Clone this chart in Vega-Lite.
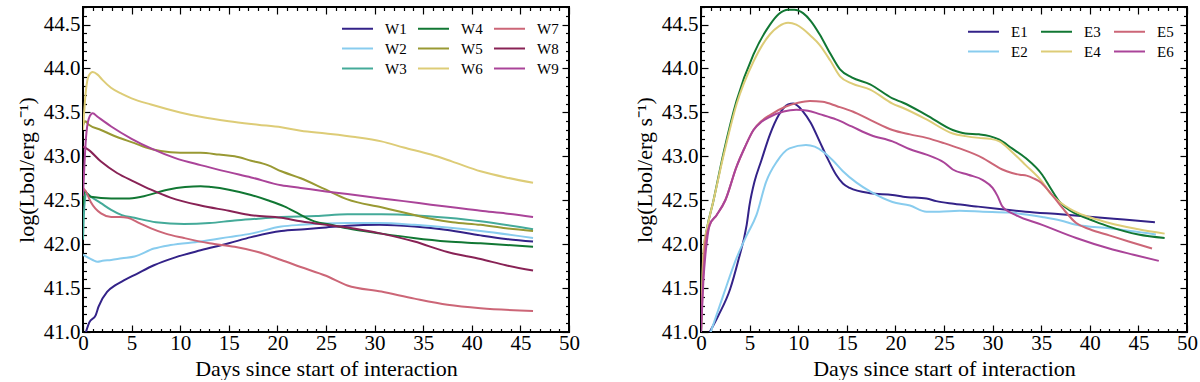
{
  "$schema": "https://vega.github.io/schema/vega-lite/v6.json",
  "background": "white",
  "padding": {"left": 14, "top": 5, "right": 12, "bottom": 0},
  "autosize": {"type": "pad"},
  "config": {
    "font": "Liberation Serif",
    "view": {"stroke": "black", "strokeWidth": 2},
    "axis": {"domain": false, "grid": false, "labelFontSize": 21, "titleFontSize": 22, "titleFontWeight": "normal", "labelColor": "black", "titleColor": "black", "tickColor": "black", "tickWidth": 1.2, "labelFlush": false, "labelOverlap": false, "labelFont": "Liberation Serif", "titleFont": "Liberation Serif"},
    "legend": {"orient": "top-right", "columns": 3, "symbolType": "M-1.5,0H1.5", "symbolStrokeWidth": 2, "symbolSize": 427, "labelFontSize": 15, "labelFont": "Liberation Serif", "labelColor": "black", "labelOffset": 16, "columnPadding": 7, "rowPadding": 0, "offset": 10, "padding": 0},
    "concat": {"spacing": 51}
  },
  "resolve": {"scale": {"color": "independent", "x": "independent", "y": "independent"}, "legend": {"color": "independent"}},
  "datasets": {
    "wide": [
      {"s":"W1","t":0.3,"L":41.0},{"s":"W1","t":0.65,"L":41.11},{"s":"W1","t":1.3,"L":41.19},{"s":"W1","t":1.6,"L":41.29},{"s":"W1","t":2.5,"L":41.46},{"s":"W1","t":3.3,"L":41.53},{"s":"W1","t":4.25,"L":41.59},{"s":"W1","t":5.5,"L":41.66},{"s":"W1","t":7.3,"L":41.76},{"s":"W1","t":9.5,"L":41.85},{"s":"W1","t":12.1,"L":41.93},{"s":"W1","t":15,"L":42.01},{"s":"W1","t":17.3,"L":42.08},{"s":"W1","t":20.4,"L":42.15},{"s":"W1","t":22.8,"L":42.17},{"s":"W1","t":25,"L":42.19},{"s":"W1","t":27.2,"L":42.21},{"s":"W1","t":30.5,"L":42.22},{"s":"W1","t":34.1,"L":42.2},{"s":"W1","t":37.5,"L":42.16},{"s":"W1","t":40.9,"L":42.1},{"s":"W1","t":43.5,"L":42.06},{"s":"W1","t":46.3,"L":42.03},
      {"s":"W2","t":0,"L":41.88},{"s":"W2","t":0.3,"L":41.86},{"s":"W2","t":1.0,"L":41.82},{"s":"W2","t":1.5,"L":41.8},{"s":"W2","t":2.0,"L":41.81},{"s":"W2","t":2.9,"L":41.82},{"s":"W2","t":4,"L":41.84},{"s":"W2","t":5.3,"L":41.86},{"s":"W2","t":7.3,"L":41.95},{"s":"W2","t":9,"L":41.99},{"s":"W2","t":12.1,"L":42.03},{"s":"W2","t":15,"L":42.08},{"s":"W2","t":17.3,"L":42.12},{"s":"W2","t":20.4,"L":42.2},{"s":"W2","t":22.4,"L":42.22},{"s":"W2","t":27.2,"L":42.24},{"s":"W2","t":30.5,"L":42.24},{"s":"W2","t":34.1,"L":42.22},{"s":"W2","t":37.5,"L":42.19},{"s":"W2","t":40.9,"L":42.15},{"s":"W2","t":46.3,"L":42.07},
      {"s":"W3","t":0,"L":42.05},{"s":"W3","t":0.15,"L":42.45},{"s":"W3","t":0.35,"L":42.58},{"s":"W3","t":0.8,"L":42.54},{"s":"W3","t":1.8,"L":42.47},{"s":"W3","t":2.9,"L":42.39},{"s":"W3","t":4,"L":42.33},{"s":"W3","t":5.3,"L":42.3},{"s":"W3","t":7.5,"L":42.25},{"s":"W3","t":10.4,"L":42.23},{"s":"W3","t":13,"L":42.24},{"s":"W3","t":15.6,"L":42.27},{"s":"W3","t":18,"L":42.29},{"s":"W3","t":20.4,"L":42.31},{"s":"W3","t":24,"L":42.32},{"s":"W3","t":27.2,"L":42.34},{"s":"W3","t":30.7,"L":42.34},{"s":"W3","t":34.1,"L":42.33},{"s":"W3","t":37.5,"L":42.3},{"s":"W3","t":40.9,"L":42.26},{"s":"W3","t":46.3,"L":42.17},
      {"s":"W4","t":0,"L":42.45},{"s":"W4","t":0.15,"L":42.6},{"s":"W4","t":0.8,"L":42.54},{"s":"W4","t":2.9,"L":42.52},{"s":"W4","t":4.5,"L":42.52},{"s":"W4","t":6,"L":42.54},{"s":"W4","t":8.7,"L":42.62},{"s":"W4","t":10.5,"L":42.65},{"s":"W4","t":12.1,"L":42.66},{"s":"W4","t":13.2,"L":42.65},{"s":"W4","t":15,"L":42.62},{"s":"W4","t":17.3,"L":42.56},{"s":"W4","t":19,"L":42.5},{"s":"W4","t":20.7,"L":42.43},{"s":"W4","t":22.3,"L":42.34},{"s":"W4","t":23.8,"L":42.26},{"s":"W4","t":25.5,"L":42.22},{"s":"W4","t":27.2,"L":42.18},{"s":"W4","t":30.7,"L":42.12},{"s":"W4","t":34,"L":42.07},{"s":"W4","t":37.5,"L":42.03},{"s":"W4","t":40.9,"L":42.01},{"s":"W4","t":46.3,"L":41.97},
      {"s":"W5","t":0,"L":43.35},{"s":"W5","t":0.2,"L":43.4},{"s":"W5","t":0.6,"L":43.36},{"s":"W5","t":1.85,"L":43.3},{"s":"W5","t":3.5,"L":43.22},{"s":"W5","t":5.3,"L":43.15},{"s":"W5","t":6.5,"L":43.1},{"s":"W5","t":8,"L":43.06},{"s":"W5","t":10,"L":43.04},{"s":"W5","t":12.1,"L":43.04},{"s":"W5","t":14,"L":43.02},{"s":"W5","t":15.6,"L":43.0},{"s":"W5","t":17.3,"L":42.95},{"s":"W5","t":19,"L":42.9},{"s":"W5","t":20.4,"L":42.83},{"s":"W5","t":22.4,"L":42.75},{"s":"W5","t":25,"L":42.62},{"s":"W5","t":27.2,"L":42.51},{"s":"W5","t":30.7,"L":42.42},{"s":"W5","t":33,"L":42.36},{"s":"W5","t":35.8,"L":42.29},{"s":"W5","t":38,"L":42.25},{"s":"W5","t":40.9,"L":42.22},{"s":"W5","t":43.5,"L":42.18},{"s":"W5","t":46.3,"L":42.15},
      {"s":"W6","t":0,"L":43.3},{"s":"W6","t":0.3,"L":43.75},{"s":"W6","t":0.6,"L":43.92},{"s":"W6","t":1.0,"L":43.96},{"s":"W6","t":1.5,"L":43.93},{"s":"W6","t":2,"L":43.87},{"s":"W6","t":2.88,"L":43.78},{"s":"W6","t":4,"L":43.71},{"s":"W6","t":5,"L":43.66},{"s":"W6","t":7,"L":43.59},{"s":"W6","t":10,"L":43.5},{"s":"W6","t":12.1,"L":43.45},{"s":"W6","t":15,"L":43.4},{"s":"W6","t":18,"L":43.36},{"s":"W6","t":20.4,"L":43.33},{"s":"W6","t":22.4,"L":43.29},{"s":"W6","t":25,"L":43.26},{"s":"W6","t":28,"L":43.22},{"s":"W6","t":30.7,"L":43.17},{"s":"W6","t":33,"L":43.1},{"s":"W6","t":35.8,"L":43.02},{"s":"W6","t":38,"L":42.94},{"s":"W6","t":40.9,"L":42.83},{"s":"W6","t":43.5,"L":42.76},{"s":"W6","t":46.3,"L":42.7},
      {"s":"W7","t":0,"L":42.64},{"s":"W7","t":0.3,"L":42.6},{"s":"W7","t":0.8,"L":42.48},{"s":"W7","t":1.85,"L":42.35},{"s":"W7","t":2.9,"L":42.31},{"s":"W7","t":3.8,"L":42.31},{"s":"W7","t":4.6,"L":42.3},{"s":"W7","t":5.8,"L":42.24},{"s":"W7","t":7,"L":42.18},{"s":"W7","t":8.5,"L":42.12},{"s":"W7","t":10.4,"L":42.07},{"s":"W7","t":13,"L":42.01},{"s":"W7","t":15.6,"L":41.97},{"s":"W7","t":18,"L":41.91},{"s":"W7","t":20.4,"L":41.82},{"s":"W7","t":22.4,"L":41.74},{"s":"W7","t":25,"L":41.64},{"s":"W7","t":27.2,"L":41.53},{"s":"W7","t":30.7,"L":41.46},{"s":"W7","t":34.1,"L":41.38},{"s":"W7","t":37.5,"L":41.31},{"s":"W7","t":40.9,"L":41.27},{"s":"W7","t":46.3,"L":41.24},
      {"s":"W8","t":0,"L":43.11},{"s":"W8","t":0.5,"L":43.08},{"s":"W8","t":1.85,"L":42.94},{"s":"W8","t":3.5,"L":42.81},{"s":"W8","t":5.3,"L":42.71},{"s":"W8","t":7,"L":42.62},{"s":"W8","t":9,"L":42.53},{"s":"W8","t":12.1,"L":42.44},{"s":"W8","t":15,"L":42.38},{"s":"W8","t":17.3,"L":42.33},{"s":"W8","t":20.4,"L":42.3},{"s":"W8","t":22.4,"L":42.26},{"s":"W8","t":25,"L":42.22},{"s":"W8","t":27.2,"L":42.19},{"s":"W8","t":30.7,"L":42.12},{"s":"W8","t":34.1,"L":42.03},{"s":"W8","t":37.5,"L":41.91},{"s":"W8","t":40.9,"L":41.83},{"s":"W8","t":43.5,"L":41.76},{"s":"W8","t":46.3,"L":41.7},
      {"s":"W9","t":0,"L":42.55},{"s":"W9","t":0.3,"L":43.2},{"s":"W9","t":0.6,"L":43.43},{"s":"W9","t":1.0,"L":43.49},{"s":"W9","t":1.5,"L":43.45},{"s":"W9","t":2.9,"L":43.34},{"s":"W9","t":5,"L":43.2},{"s":"W9","t":7,"L":43.09},{"s":"W9","t":9.5,"L":42.98},{"s":"W9","t":12.1,"L":42.9},{"s":"W9","t":15,"L":42.82},{"s":"W9","t":17.3,"L":42.76},{"s":"W9","t":20.4,"L":42.67},{"s":"W9","t":22.4,"L":42.64},{"s":"W9","t":25,"L":42.6},{"s":"W9","t":27.2,"L":42.57},{"s":"W9","t":30.7,"L":42.52},{"s":"W9","t":33,"L":42.49},{"s":"W9","t":35.8,"L":42.45},{"s":"W9","t":38,"L":42.42},{"s":"W9","t":40.9,"L":42.38},{"s":"W9","t":43.5,"L":42.35},{"s":"W9","t":46.3,"L":42.31}
    ],
    "edge": [
      {"s":"E1","t":0.9,"L":41.0},{"s":"E1","t":1.8,"L":41.19},{"s":"E1","t":3.0,"L":41.49},{"s":"E1","t":3.8,"L":41.8},{"s":"E1","t":4.7,"L":42.22},{"s":"E1","t":5.0,"L":42.45},{"s":"E1","t":5.5,"L":42.71},{"s":"E1","t":6.2,"L":42.95},{"s":"E1","t":7.1,"L":43.25},{"s":"E1","t":8,"L":43.47},{"s":"E1","t":8.96,"L":43.59},{"s":"E1","t":9.5,"L":43.6},{"s":"E1","t":10.5,"L":43.51},{"s":"E1","t":11.3,"L":43.38},{"s":"E1","t":12.2,"L":43.17},{"s":"E1","t":13,"L":42.98},{"s":"E1","t":13.9,"L":42.79},{"s":"E1","t":14.6,"L":42.69},{"s":"E1","t":15.3,"L":42.64},{"s":"E1","t":17.4,"L":42.58},{"s":"E1","t":19.7,"L":42.56},{"s":"E1","t":20.8,"L":42.54},{"s":"E1","t":23.2,"L":42.52},{"s":"E1","t":24.2,"L":42.49},{"s":"E1","t":26,"L":42.46},{"s":"E1","t":28.3,"L":42.43},{"s":"E1","t":30.7,"L":42.4},{"s":"E1","t":33.4,"L":42.37},{"s":"E1","t":37,"L":42.34},{"s":"E1","t":40.3,"L":42.31},{"s":"E1","t":43.5,"L":42.28},{"s":"E1","t":46.7,"L":42.25},
      {"s":"E2","t":1.0,"L":41.0},{"s":"E2","t":2.3,"L":41.42},{"s":"E2","t":3.65,"L":41.84},{"s":"E2","t":4.7,"L":42.1},{"s":"E2","t":5.7,"L":42.33},{"s":"E2","t":6.7,"L":42.71},{"s":"E2","t":7.8,"L":42.94},{"s":"E2","t":9.1,"L":43.09},{"s":"E2","t":10.8,"L":43.13},{"s":"E2","t":11.7,"L":43.11},{"s":"E2","t":12.6,"L":43.05},{"s":"E2","t":13.6,"L":42.95},{"s":"E2","t":14.6,"L":42.83},{"s":"E2","t":16,"L":42.7},{"s":"E2","t":17.4,"L":42.6},{"s":"E2","t":19.7,"L":42.48},{"s":"E2","t":21.5,"L":42.44},{"s":"E2","t":23.2,"L":42.37},{"s":"E2","t":24.5,"L":42.37},{"s":"E2","t":26.6,"L":42.38},{"s":"E2","t":29,"L":42.37},{"s":"E2","t":31.7,"L":42.36},{"s":"E2","t":35.1,"L":42.31},{"s":"E2","t":37,"L":42.27},{"s":"E2","t":38.6,"L":42.22},{"s":"E2","t":42,"L":42.18},{"s":"E2","t":46.8,"L":42.11},
      {"s":"E3","t":0,"L":41.0},{"s":"E3","t":0.15,"L":41.6},{"s":"E3","t":0.3,"L":41.95},{"s":"E3","t":0.6,"L":42.17},{"s":"E3","t":1.25,"L":42.48},{"s":"E3","t":2.3,"L":43.03},{"s":"E3","t":3.65,"L":43.63},{"s":"E3","t":5.4,"L":44.16},{"s":"E3","t":7.1,"L":44.5},{"s":"E3","t":8,"L":44.62},{"s":"E3","t":8.96,"L":44.67},{"s":"E3","t":9.6,"L":44.67},{"s":"E3","t":10.5,"L":44.63},{"s":"E3","t":11.3,"L":44.54},{"s":"E3","t":12.2,"L":44.39},{"s":"E3","t":13.3,"L":44.17},{"s":"E3","t":14.3,"L":43.99},{"s":"E3","t":15.5,"L":43.9},{"s":"E3","t":17.4,"L":43.82},{"s":"E3","t":19.7,"L":43.66},{"s":"E3","t":20.8,"L":43.61},{"s":"E3","t":23.2,"L":43.47},{"s":"E3","t":25.9,"L":43.3},{"s":"E3","t":27.2,"L":43.26},{"s":"E3","t":28.6,"L":43.25},{"s":"E3","t":29.7,"L":43.23},{"s":"E3","t":30.7,"L":43.19},{"s":"E3","t":32,"L":43.09},{"s":"E3","t":33.4,"L":42.98},{"s":"E3","t":35.1,"L":42.79},{"s":"E3","t":36,"L":42.63},{"s":"E3","t":36.9,"L":42.48},{"s":"E3","t":38,"L":42.38},{"s":"E3","t":38.9,"L":42.33},{"s":"E3","t":40.5,"L":42.26},{"s":"E3","t":42,"L":42.2},{"s":"E3","t":45,"L":42.11},{"s":"E3","t":47.7,"L":42.07},
      {"s":"E4","t":0,"L":41.0},{"s":"E4","t":0.15,"L":41.65},{"s":"E4","t":0.3,"L":41.98},{"s":"E4","t":0.6,"L":42.17},{"s":"E4","t":1.25,"L":42.48},{"s":"E4","t":2.3,"L":43.0},{"s":"E4","t":3.65,"L":43.59},{"s":"E4","t":5.4,"L":44.08},{"s":"E4","t":7.1,"L":44.39},{"s":"E4","t":8,"L":44.48},{"s":"E4","t":8.96,"L":44.52},{"s":"E4","t":9.8,"L":44.5},{"s":"E4","t":10.5,"L":44.45},{"s":"E4","t":11.3,"L":44.37},{"s":"E4","t":12.2,"L":44.27},{"s":"E4","t":13.3,"L":44.09},{"s":"E4","t":14.3,"L":43.91},{"s":"E4","t":15.5,"L":43.83},{"s":"E4","t":17.4,"L":43.76},{"s":"E4","t":19.7,"L":43.6},{"s":"E4","t":20.8,"L":43.55},{"s":"E4","t":23.2,"L":43.42},{"s":"E4","t":25.9,"L":43.26},{"s":"E4","t":27.2,"L":43.23},{"s":"E4","t":28.6,"L":43.21},{"s":"E4","t":29.7,"L":43.2},{"s":"E4","t":30.7,"L":43.17},{"s":"E4","t":32,"L":43.05},{"s":"E4","t":33.4,"L":42.9},{"s":"E4","t":35.1,"L":42.71},{"s":"E4","t":36,"L":42.57},{"s":"E4","t":36.9,"L":42.48},{"s":"E4","t":38,"L":42.4},{"s":"E4","t":38.9,"L":42.35},{"s":"E4","t":40.5,"L":42.29},{"s":"E4","t":42,"L":42.24},{"s":"E4","t":45,"L":42.17},{"s":"E4","t":47.7,"L":42.12},
      {"s":"E5","t":0,"L":41.0},{"s":"E5","t":0.2,"L":41.6},{"s":"E5","t":0.45,"L":42.03},{"s":"E5","t":0.9,"L":42.22},{"s":"E5","t":1.6,"L":42.33},{"s":"E5","t":2.5,"L":42.5},{"s":"E5","t":3.65,"L":42.88},{"s":"E5","t":4.5,"L":43.1},{"s":"E5","t":5.4,"L":43.3},{"s":"E5","t":6.2,"L":43.4},{"s":"E5","t":7.1,"L":43.47},{"s":"E5","t":8.8,"L":43.57},{"s":"E5","t":10,"L":43.61},{"s":"E5","t":11.2,"L":43.63},{"s":"E5","t":12.5,"L":43.62},{"s":"E5","t":14,"L":43.57},{"s":"E5","t":15.6,"L":43.51},{"s":"E5","t":17.5,"L":43.41},{"s":"E5","t":19.7,"L":43.3},{"s":"E5","t":21.5,"L":43.25},{"s":"E5","t":23.2,"L":43.21},{"s":"E5","t":25,"L":43.15},{"s":"E5","t":26.6,"L":43.09},{"s":"E5","t":29,"L":42.98},{"s":"E5","t":30.2,"L":42.9},{"s":"E5","t":31,"L":42.85},{"s":"E5","t":32,"L":42.81},{"s":"E5","t":32.8,"L":42.79},{"s":"E5","t":33.5,"L":42.78},{"s":"E5","t":34.2,"L":42.75},{"s":"E5","t":35,"L":42.7},{"s":"E5","t":35.5,"L":42.64},{"s":"E5","t":36.2,"L":42.55},{"s":"E5","t":37.2,"L":42.41},{"s":"E5","t":38.6,"L":42.24},{"s":"E5","t":40,"L":42.17},{"s":"E5","t":42,"L":42.1},{"s":"E5","t":44,"L":42.03},{"s":"E5","t":46.4,"L":41.95},
      {"s":"E6","t":0,"L":41.0},{"s":"E6","t":0.24,"L":41.57},{"s":"E6","t":0.6,"L":42.03},{"s":"E6","t":0.9,"L":42.22},{"s":"E6","t":1.6,"L":42.33},{"s":"E6","t":2.5,"L":42.5},{"s":"E6","t":3.65,"L":42.88},{"s":"E6","t":4.5,"L":43.1},{"s":"E6","t":5.4,"L":43.3},{"s":"E6","t":6.2,"L":43.39},{"s":"E6","t":7.1,"L":43.45},{"s":"E6","t":8.5,"L":43.51},{"s":"E6","t":9.8,"L":43.53},{"s":"E6","t":11,"L":43.52},{"s":"E6","t":12.2,"L":43.48},{"s":"E6","t":13.9,"L":43.42},{"s":"E6","t":15.5,"L":43.34},{"s":"E6","t":17.5,"L":43.24},{"s":"E6","t":19.7,"L":43.17},{"s":"E6","t":21.5,"L":43.08},{"s":"E6","t":23.2,"L":43.02},{"s":"E6","t":25,"L":42.93},{"s":"E6","t":25.9,"L":42.85},{"s":"E6","t":27.5,"L":42.79},{"s":"E6","t":29,"L":42.73},{"s":"E6","t":30,"L":42.64},{"s":"E6","t":30.5,"L":42.55},{"s":"E6","t":31,"L":42.43},{"s":"E6","t":32.4,"L":42.33},{"s":"E6","t":35.1,"L":42.22},{"s":"E6","t":38.6,"L":42.07},{"s":"E6","t":42,"L":41.95},{"s":"E6","t":44.5,"L":41.88},{"s":"E6","t":47.1,"L":41.81}
    ]
  },
  "hconcat": [
    {
      "width": 486, "height": 325,
      "data": {"name": "wide"},
      "layer": [
        {
          "mark": {"type": "line", "strokeWidth": 2, "interpolate": "monotone", "clip": true},
          "encoding": {
            "x": {"field": "t", "type": "quantitative", "scale": {"domain": [0, 50], "nice": false, "zero": false},
              "axis": {"orient": "bottom", "title": "Days since start of interaction", "values": [0,1,2,3,4,5,6,7,8,9,10,11,12,13,14,15,16,17,18,19,20,21,22,23,24,25,26,27,28,29,30,31,32,33,34,35,36,37,38,39,40,41,42,43,44,45,46,47,48,49,50], "labelExpr": "datum.value % 5 === 0 ? datum.label : ''", "labelFontSize": {"condition": {"test": "datum.value % 5 === 0", "value": 21}, "value": 0}, "tickSize": {"condition": {"test": "datum.value % 5 === 0", "value": -7}, "value": -3.5}, "labelPadding": 7, "titlePadding": 5}},
            "y": {"field": "L", "type": "quantitative", "scale": {"domain": [41, 44.7], "nice": false, "zero": false},
              "axis": {"orient": "left", "title": "log(Lbol/erg s⁻¹)", "format": ".1f", "values": [41.0,41.1,41.2,41.3,41.4,41.5,41.6,41.7,41.8,41.9,42.0,42.1,42.2,42.3,42.4,42.5,42.6,42.7,42.8,42.9,43.0,43.1,43.2,43.3,43.4,43.5,43.6,43.7,43.8,43.9,44.0,44.1,44.2,44.3,44.4,44.5,44.6,44.7], "labelExpr": "abs(datum.value*2 - round(datum.value*2)) < 0.01 ? datum.label : ''", "labelFontSize": {"condition": {"test": "abs(datum.value*2 - round(datum.value*2)) < 0.01", "value": 21}, "value": 0}, "tickSize": {"condition": {"test": "abs(datum.value*2 - round(datum.value*2)) < 0.01", "value": -7}, "value": -3.5}, "labelPadding": 10, "titlePadding": 5}},
            "color": {"field": "s", "type": "nominal",
              "scale": {"domain": ["W1","W2","W3","W4","W5","W6","W7","W8","W9"], "range": ["#332288","#88CCEE","#44AA99","#117733","#999933","#DDCC77","#CC6677","#882255","#AA4499"]},
              "legend": {"title": null}}
          }
        },
        {
          "mark": {"type": "point", "opacity": 0},
          "encoding": {
            "x": {"field": "t", "type": "quantitative", "scale": {"domain": [0, 50], "nice": false, "zero": false},
              "axis": {"orient": "top", "title": null, "labels": false, "values": [0,1,2,3,4,5,6,7,8,9,10,11,12,13,14,15,16,17,18,19,20,21,22,23,24,25,26,27,28,29,30,31,32,33,34,35,36,37,38,39,40,41,42,43,44,45,46,47,48,49,50], "tickSize": {"condition": {"test": "datum.value % 5 === 0", "value": -7}, "value": -3.5}}},
            "y": {"field": "L", "type": "quantitative", "scale": {"domain": [41, 44.7], "nice": false, "zero": false},
              "axis": {"orient": "right", "title": null, "labels": false, "values": [41.0,41.1,41.2,41.3,41.4,41.5,41.6,41.7,41.8,41.9,42.0,42.1,42.2,42.3,42.4,42.5,42.6,42.7,42.8,42.9,43.0,43.1,43.2,43.3,43.4,43.5,43.6,43.7,43.8,43.9,44.0,44.1,44.2,44.3,44.4,44.5,44.6,44.7], "tickSize": {"condition": {"test": "abs(datum.value*2 - round(datum.value*2)) < 0.01", "value": -7}, "value": -3.5}}}
          }
        }
      ],
      "resolve": {"axis": {"x": "independent", "y": "independent"}}
    },
    {
      "width": 486, "height": 325,
      "data": {"name": "edge"},
      "layer": [
        {
          "mark": {"type": "line", "strokeWidth": 2, "interpolate": "monotone", "clip": true},
          "encoding": {
            "x": {"field": "t", "type": "quantitative", "scale": {"domain": [0, 50], "nice": false, "zero": false},
              "axis": {"orient": "bottom", "title": "Days since start of interaction", "values": [0,1,2,3,4,5,6,7,8,9,10,11,12,13,14,15,16,17,18,19,20,21,22,23,24,25,26,27,28,29,30,31,32,33,34,35,36,37,38,39,40,41,42,43,44,45,46,47,48,49,50], "labelExpr": "datum.value % 5 === 0 ? datum.label : ''", "labelFontSize": {"condition": {"test": "datum.value % 5 === 0", "value": 21}, "value": 0}, "tickSize": {"condition": {"test": "datum.value % 5 === 0", "value": -7}, "value": -3.5}, "labelPadding": 7, "titlePadding": 5}},
            "y": {"field": "L", "type": "quantitative", "scale": {"domain": [41, 44.7], "nice": false, "zero": false},
              "axis": {"orient": "left", "title": "log(Lbol/erg s⁻¹)", "format": ".1f", "values": [41.0,41.1,41.2,41.3,41.4,41.5,41.6,41.7,41.8,41.9,42.0,42.1,42.2,42.3,42.4,42.5,42.6,42.7,42.8,42.9,43.0,43.1,43.2,43.3,43.4,43.5,43.6,43.7,43.8,43.9,44.0,44.1,44.2,44.3,44.4,44.5,44.6,44.7], "labelExpr": "abs(datum.value*2 - round(datum.value*2)) < 0.01 ? datum.label : ''", "labelFontSize": {"condition": {"test": "abs(datum.value*2 - round(datum.value*2)) < 0.01", "value": 21}, "value": 0}, "tickSize": {"condition": {"test": "abs(datum.value*2 - round(datum.value*2)) < 0.01", "value": -7}, "value": -3.5}, "labelPadding": 10, "titlePadding": 5}},
            "color": {"field": "s", "type": "nominal",
              "scale": {"domain": ["E1","E2","E3","E4","E5","E6"], "range": ["#332288","#88CCEE","#117733","#DDCC77","#CC6677","#AA4499"]},
              "legend": {"title": null, "offset": 13, "columnPadding": 9}}
          }
        },
        {
          "mark": {"type": "point", "opacity": 0},
          "encoding": {
            "x": {"field": "t", "type": "quantitative", "scale": {"domain": [0, 50], "nice": false, "zero": false},
              "axis": {"orient": "top", "title": null, "labels": false, "values": [0,1,2,3,4,5,6,7,8,9,10,11,12,13,14,15,16,17,18,19,20,21,22,23,24,25,26,27,28,29,30,31,32,33,34,35,36,37,38,39,40,41,42,43,44,45,46,47,48,49,50], "tickSize": {"condition": {"test": "datum.value % 5 === 0", "value": -7}, "value": -3.5}}},
            "y": {"field": "L", "type": "quantitative", "scale": {"domain": [41, 44.7], "nice": false, "zero": false},
              "axis": {"orient": "right", "title": null, "labels": false, "values": [41.0,41.1,41.2,41.3,41.4,41.5,41.6,41.7,41.8,41.9,42.0,42.1,42.2,42.3,42.4,42.5,42.6,42.7,42.8,42.9,43.0,43.1,43.2,43.3,43.4,43.5,43.6,43.7,43.8,43.9,44.0,44.1,44.2,44.3,44.4,44.5,44.6,44.7], "tickSize": {"condition": {"test": "abs(datum.value*2 - round(datum.value*2)) < 0.01", "value": -7}, "value": -3.5}}}
          }
        }
      ],
      "resolve": {"axis": {"x": "independent", "y": "independent"}}
    }
  ]
}
